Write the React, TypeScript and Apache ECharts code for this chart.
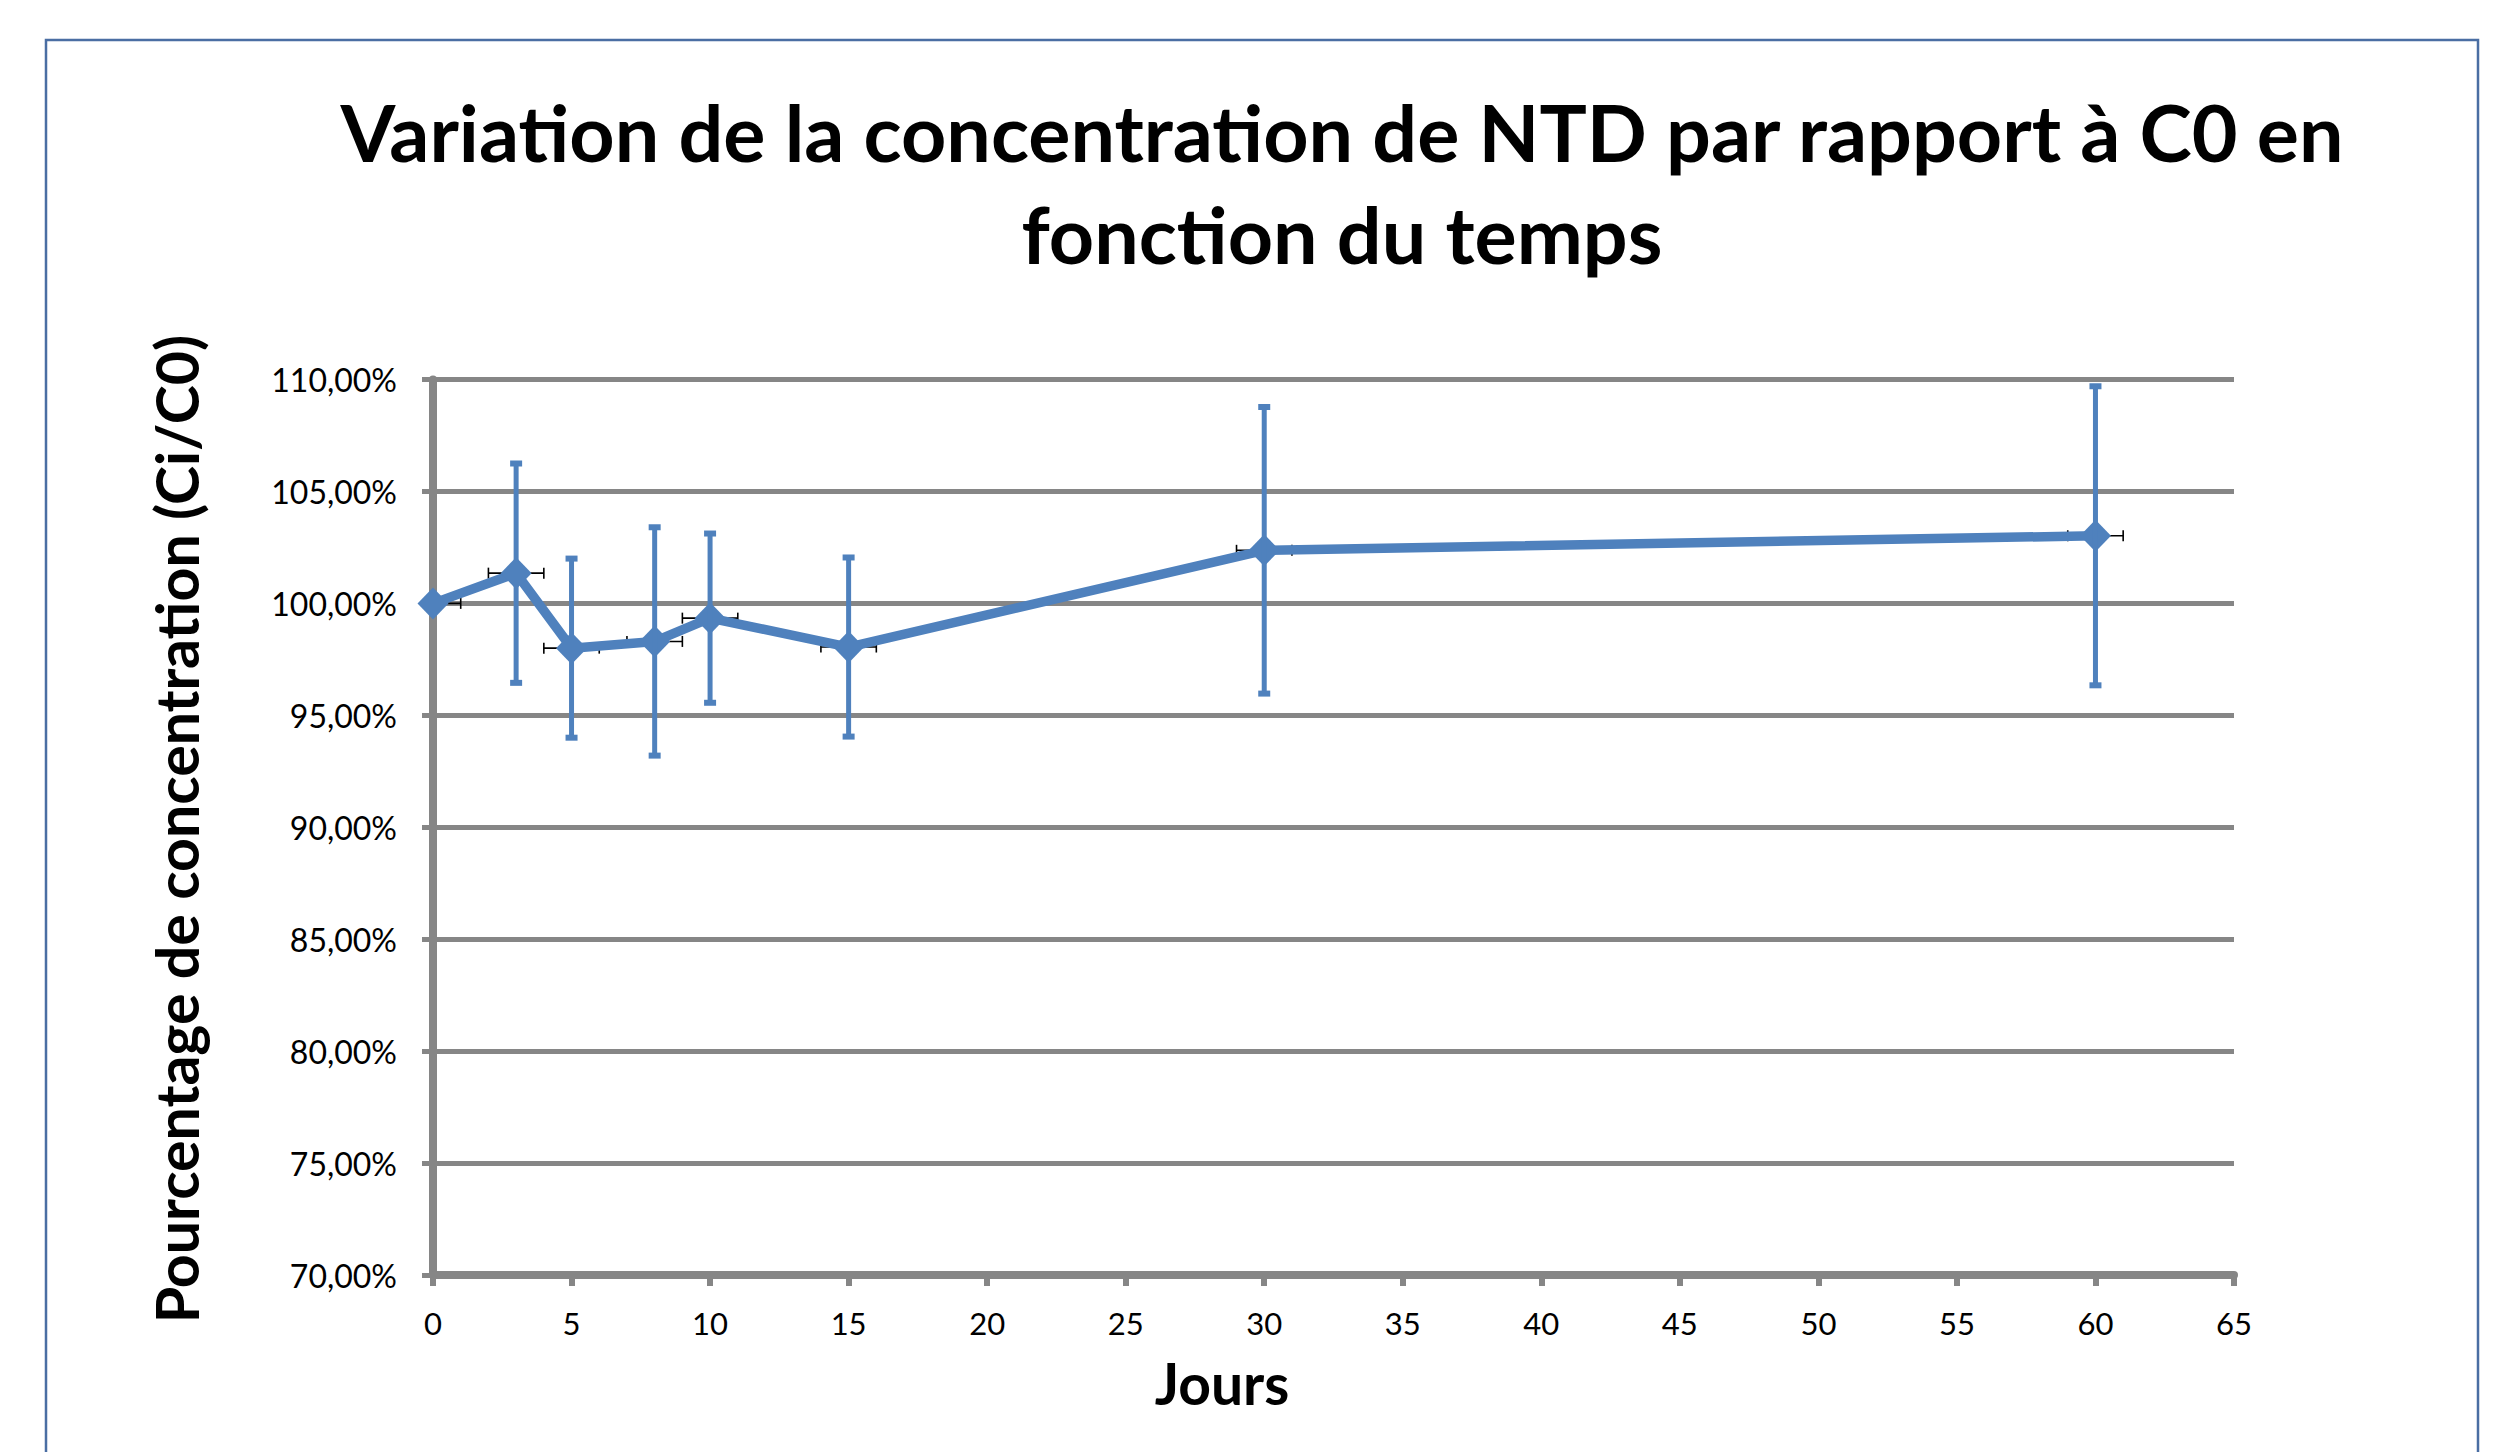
import React, { useEffect, useRef } from "react";
import * as echarts from "echarts";

const TITLE = "Variation de la concentration de NTD par rapport à C0 en\nfonction du temps";
const X_NAME = "Jours";
const Y_NAME = "Pourcentage de concentration (Ci/C0)";

const days = [0, 3, 5, 8, 10, 15, 30, 60];
const percent = [100.0, 101.35, 98.0, 98.3, 99.34, 98.05, 102.37, 103.02];
const yError = [0, 4.9, 4.0, 5.1, 3.78, 4.0, 6.4, 6.68];
const xError = [1, 1, 1, 1, 1, 1, 1, 1];

const X_MIN = 0;
const X_MAX = 65;
const X_STEP = 5;
const Y_MIN = 70;
const Y_MAX = 110;
const Y_STEP = 5;

const BLUE = "#4f81bd";
const GRAY = "#868686";
const FONT = "Lato";

export default function App() {
  const ref = useRef<HTMLDivElement>(null);

  useEffect(() => {
    if (!ref.current) return;
    const chart = echarts.init(ref.current, undefined, { renderer: "svg" });

    const errData = days.map((d, i) => [d, percent[i], yError[i], xError[i]]);

    const option: any = {
      animation: false,
      backgroundColor: "#ffffff",
      grid: { left: 433, top: 379.5, width: 1801, height: 895.5, containLabel: false },
      xAxis: {
        type: "value",
        min: X_MIN,
        max: X_MAX,
        interval: X_STEP,
        axisLine: { show: true, onZero: false, lineStyle: { color: GRAY, width: 8 } },
        axisTick: { show: true, length: 11, lineStyle: { color: GRAY, width: 6 } },
        axisLabel: { margin: 32, color: "#000", fontFamily: FONT, fontSize: 31 },
        splitLine: { show: false },
      },
      yAxis: {
        type: "value",
        min: Y_MIN,
        max: Y_MAX,
        interval: Y_STEP,
        axisLine: { show: true, lineStyle: { color: GRAY, width: 8 } },
        axisTick: { show: true, length: 11, lineStyle: { color: GRAY, width: 5 } },
        axisLabel: {
          margin: 36,
          color: "#000",
          fontFamily: FONT,
          fontSize: 32,
          formatter: (v: number) => v.toFixed(2).replace(".", ",") + "%",
        },
        splitLine: { show: true, lineStyle: { color: GRAY, width: 5 } },
      },
      graphic: [
        {
          type: "rect",
          silent: true,
          shape: { x: 46, y: 40, width: 2432, height: 2000 },
          style: { fill: "none", stroke: "#4a6ea3", lineWidth: 2.5 },
          z: -10,
        },
        {
          type: "text",
          x: 1342,
          y: 80,
          style: {
            text: TITLE,
            align: "center",
            verticalAlign: "top",
            fontFamily: FONT,
            fontWeight: "bold",
            fontSize: 79,
            lineHeight: 102,
            fill: "#000",
          },
        },
        {
          type: "text",
          x: 1222,
          y: 1383,
          style: {
            text: X_NAME,
            align: "center",
            verticalAlign: "middle",
            fontFamily: FONT,
            fontWeight: "bold",
            fontSize: 57,
            fill: "#000",
          },
        },
        {
          type: "text",
          x: 176,
          y: 829,
          rotation: Math.PI / 2,
          style: {
            text: Y_NAME,
            align: "center",
            verticalAlign: "middle",
            fontFamily: FONT,
            fontWeight: "bold",
            fontSize: 59,
            fill: "#000",
          },
        },
      ],
      series: [
        {
          type: "custom",
          name: "xerr",
          clip: true,
          z: 1,
          encode: { x: 0, y: 1 },
          data: errData,
          renderItem: (_p: any, api: any) => {
            const x = api.value(0);
            const y = api.value(1);
            const ex = api.value(3);
            const l = api.coord([x - ex, y]);
            const r = api.coord([x + ex, y]);
            const st = { stroke: "#000", lineWidth: 1.6 };
            return {
              type: "group",
              children: [
                { type: "line", shape: { x1: l[0], y1: l[1], x2: r[0], y2: r[1] }, style: st },
                { type: "line", shape: { x1: l[0], y1: l[1] - 5.5, x2: l[0], y2: l[1] + 5.5 }, style: st },
                { type: "line", shape: { x1: r[0], y1: r[1] - 5.5, x2: r[0], y2: r[1] + 5.5 }, style: st },
              ],
            };
          },
        },
        {
          type: "line",
          name: "C",
          z: 2,
          data: days.map((d, i) => [d, percent[i]]),
          symbol: "diamond",
          symbolSize: [31, 32],
          showSymbol: true,
          clip: false,
          lineStyle: { color: BLUE, width: 9.5 },
          itemStyle: { color: BLUE },
        },
        {
          type: "custom",
          name: "yerr",
          clip: true,
          z: 3,
          encode: { x: 0, y: 1 },
          data: errData,
          renderItem: (_p: any, api: any) => {
            const x = api.value(0);
            const y = api.value(1);
            const ey = api.value(2);
            if (!ey) return { type: "group", children: [] };
            const t = api.coord([x, y + ey]);
            const b = api.coord([x, y - ey]);
            const st = { fill: BLUE };
            return {
              type: "group",
              children: [
                { type: "line", shape: { x1: t[0], y1: t[1], x2: b[0], y2: b[1] }, style: { stroke: BLUE, lineWidth: 5 } },
                { type: "rect", shape: { x: t[0] - 6, y: t[1] - 3, width: 12, height: 6 }, style: st },
                { type: "rect", shape: { x: b[0] - 6, y: b[1] - 3, width: 12, height: 6 }, style: st },
              ],
            };
          },
        },
      ],
    };

    chart.setOption(option);
    return () => chart.dispose();
  }, []);

  return (
    <div
      ref={ref}
      style={{ position: "fixed", left: 0, top: 0, width: 2493, height: 1452, background: "#fff" }}
    />
  );
}
